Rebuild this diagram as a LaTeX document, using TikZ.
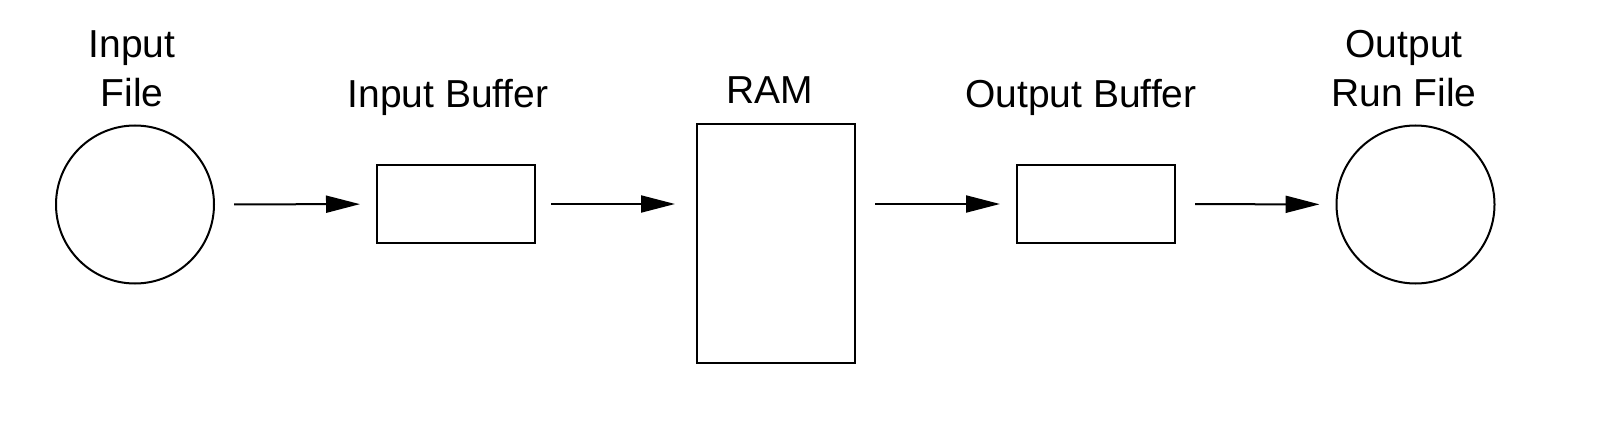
\documentclass[tikz,border=0pt]{standalone}
\usepackage{fontspec}
\setmainfont{Liberation Sans}
\usetikzlibrary{arrows.meta}
\tikzset{
    file/.style={draw, circle, minimum size=158pt, inner sep=0pt},
    buffer/.style={draw, rectangle, minimum width=158pt, minimum height=78pt, inner sep=0pt},
    flow/.style={-{Triangle[length=34pt,width=17pt]}, shorten <=19pt, shorten >=16pt},
    title/.style={font=\fontsize{39}{49}\selectfont, align=center, anchor=base, inner sep=0pt}
}
\begin{document}
\begin{tikzpicture}[x=1pt, y=1pt, line width=2pt]
                \useasboundingbox (0,0) rectangle (1605,421);
                \node[file] (infile) at (135,216.5) {};
                \node[buffer] (inbuf) at (456,217) {};
                \node[buffer, minimum height=239pt] (ram) at (776,177.5) {};
                \node[buffer] (outbuf) at (1096,217) {};
                \node[file] (outfile) at (1415.5,216.5) {};

                \node[title] (infiletext) at (132,314) {Input\\File};
                \node[title] (inbuftext) at (448,313) {Input Buffer};
                \node[title] (ramtext) at (770,317) {RAM};
                \node[title] (outbuftext) at (1081,313) {Output Buffer};
                \node[title] (outfiletext) at (1404,314) {Output\\Run File};

                \draw[flow] (infile) -- (inbuf);
                \draw[flow, shorten <=15pt, shorten >=21pt] (inbuf.east) -- (inbuf.east -| ram.west);
                \draw[flow] (outbuf.west -| ram.east) -- (outbuf.west);
                \draw[flow] (outbuf) -- (outfile);
            \end{tikzpicture}
\end{document}
